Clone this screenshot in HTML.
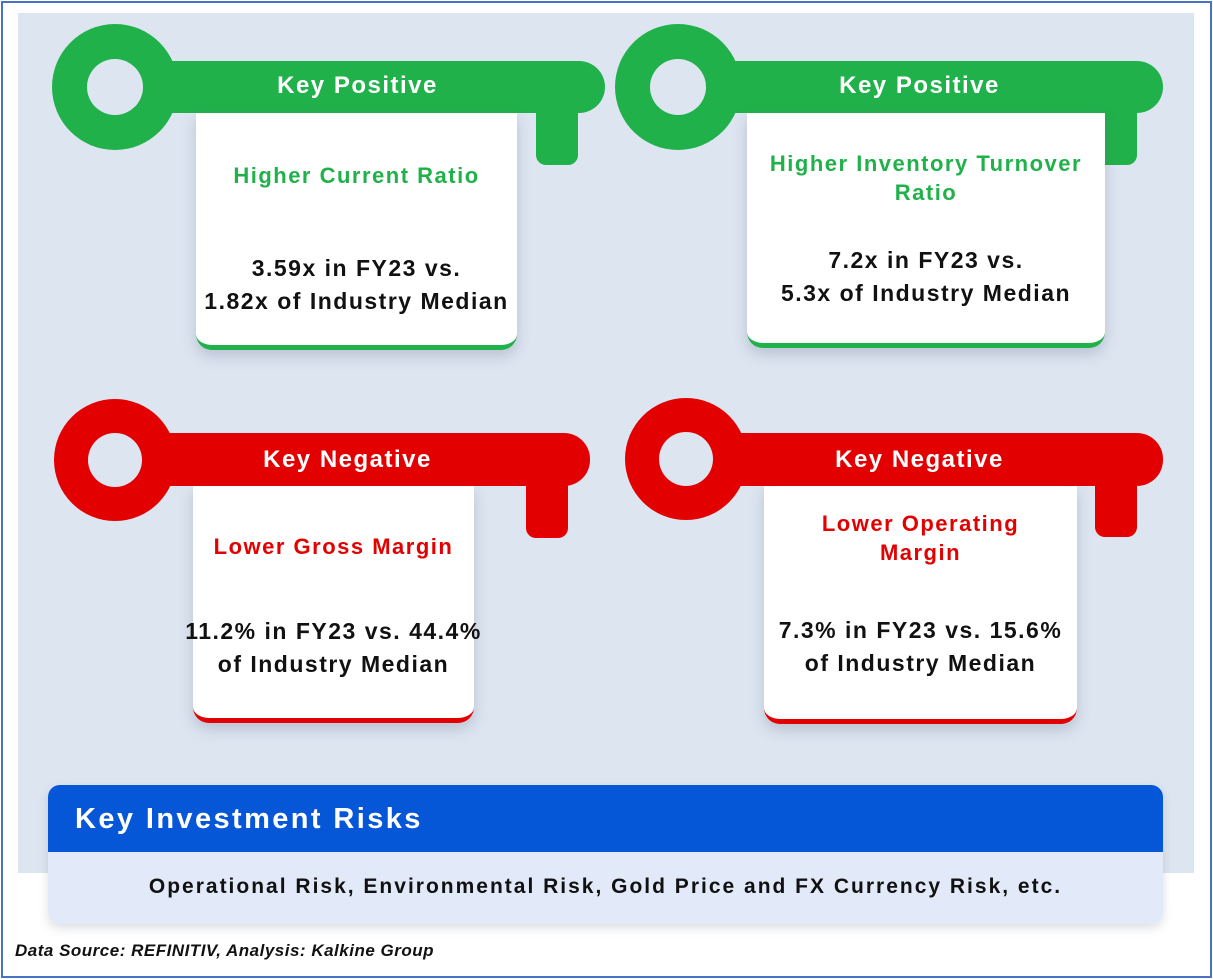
<!DOCTYPE html>
<html><head><meta charset="utf-8"><style>
*{margin:0;padding:0;box-sizing:border-box}
body{width:1213px;height:979px;background:#fff;font-family:"Liberation Sans",sans-serif;position:relative;overflow:hidden}
.frame{position:absolute;left:1px;top:1px;width:1211px;height:977px;border:2px solid #4a72c4}
.bg{position:absolute;left:18px;top:13px;width:1176px;height:860px;background:#dde5f1}
.card{position:absolute;background:#fff;border-radius:0 0 16px 16px;box-shadow:0 6px 14px rgba(80,90,120,.25);text-align:center}
.sub{position:absolute;left:-20px;right:-20px;font-size:22px;font-weight:bold;line-height:29px;letter-spacing:1.5px}
.body{position:absolute;left:-20px;right:-20px;font-size:23px;font-weight:bold;line-height:33px;color:#111;letter-spacing:1.5px}
.kt{position:absolute;color:#fff;font-weight:bold;font-size:24px;text-align:center;letter-spacing:1.5px}
</style></head><body>
<div class="frame"></div>
<div class="bg"></div>
<svg width="1213" height="979" style="position:absolute;left:0;top:0">
 <g fill="#21b14b">
  <circle cx="115" cy="87" r="63"/><rect x="130" y="61" width="475" height="52" rx="26"/><rect x="536" y="80" width="42" height="85" rx="10"/>
 </g>
 <g fill="#21b14b">
  <circle cx="678" cy="87" r="63"/><rect x="690" y="61" width="473" height="52" rx="26"/><rect x="1095" y="80" width="42" height="85" rx="10"/>
 </g>
 <g fill="#e30000">
  <circle cx="115" cy="460" r="61"/><rect x="130" y="433" width="460" height="53" rx="26"/><rect x="526" y="450" width="42" height="88" rx="10"/>
 </g>
 <g fill="#e30000">
  <circle cx="686" cy="459" r="61"/><rect x="700" y="433" width="463" height="53" rx="26"/><rect x="1095" y="450" width="42" height="87" rx="10"/>
 </g>
 <g fill="#dde5f1"><circle cx="115" cy="87" r="28"/><circle cx="678" cy="87" r="28"/><circle cx="115" cy="460" r="27"/><circle cx="686" cy="459" r="27"/></g>
</svg>
<div class="kt" style="left:200px;top:72px;width:315px">Key Positive</div>
<div class="kt" style="left:762px;top:72px;width:315px">Key Positive</div>
<div class="kt" style="left:190px;top:446px;width:315px">Key Negative</div>
<div class="kt" style="left:762px;top:446px;width:315px">Key Negative</div>

<div class="card" style="left:196px;top:113px;width:321px;height:237px;border-bottom:5px solid #21b14b">
 <div class="sub" style="top:48px;color:#21b14b">Higher Current Ratio</div>
 <div class="body" style="top:139px">3.59x in FY23 vs.<br>1.82x of Industry Median</div>
</div>
<div class="card" style="left:747px;top:113px;width:358px;height:235px;border-bottom:5px solid #21b14b">
 <div class="sub" style="top:36px;color:#21b14b">Higher Inventory Turnover<br>Ratio</div>
 <div class="body" style="top:131px">7.2x in FY23 vs.<br>5.3x of Industry Median</div>
</div>
<div class="card" style="left:193px;top:486px;width:281px;height:237px;border-bottom:5px solid #e30000">
 <div class="sub" style="top:46px;color:#e30000">Lower Gross Margin</div>
 <div class="body" style="top:129px">11.2% in FY23 vs. 44.4%<br>of Industry Median</div>
</div>
<div class="card" style="left:764px;top:486px;width:313px;height:238px;border-bottom:5px solid #e30000">
 <div class="sub" style="top:23px;color:#e30000">Lower Operating<br>Margin</div>
 <div class="body" style="top:128px">7.3% in FY23 vs. 15.6%<br>of Industry Median</div>
</div>

<div style="position:absolute;left:48px;top:785px;width:1115px;height:139px;border-radius:12px;overflow:hidden;box-shadow:0 4px 10px rgba(80,90,120,.2)">
 <div style="height:67px;background:#0656d8;color:#fff;font-weight:bold;font-size:29px;padding:18px 0 0 27px;letter-spacing:2.4px">Key Investment Risks</div>
 <div style="height:72px;background:#e2eaf9;color:#111;font-size:21px;text-align:center;padding-top:23px;font-weight:bold;letter-spacing:2px;white-space:nowrap">Operational Risk, Environmental Risk, Gold Price and FX Currency Risk, etc.</div>
</div>
<div style="position:absolute;left:15px;top:941px;font-size:17px;font-weight:bold;font-style:italic;color:#111;letter-spacing:0.5px">Data Source: REFINITIV, Analysis: Kalkine Group</div>
</body></html>
